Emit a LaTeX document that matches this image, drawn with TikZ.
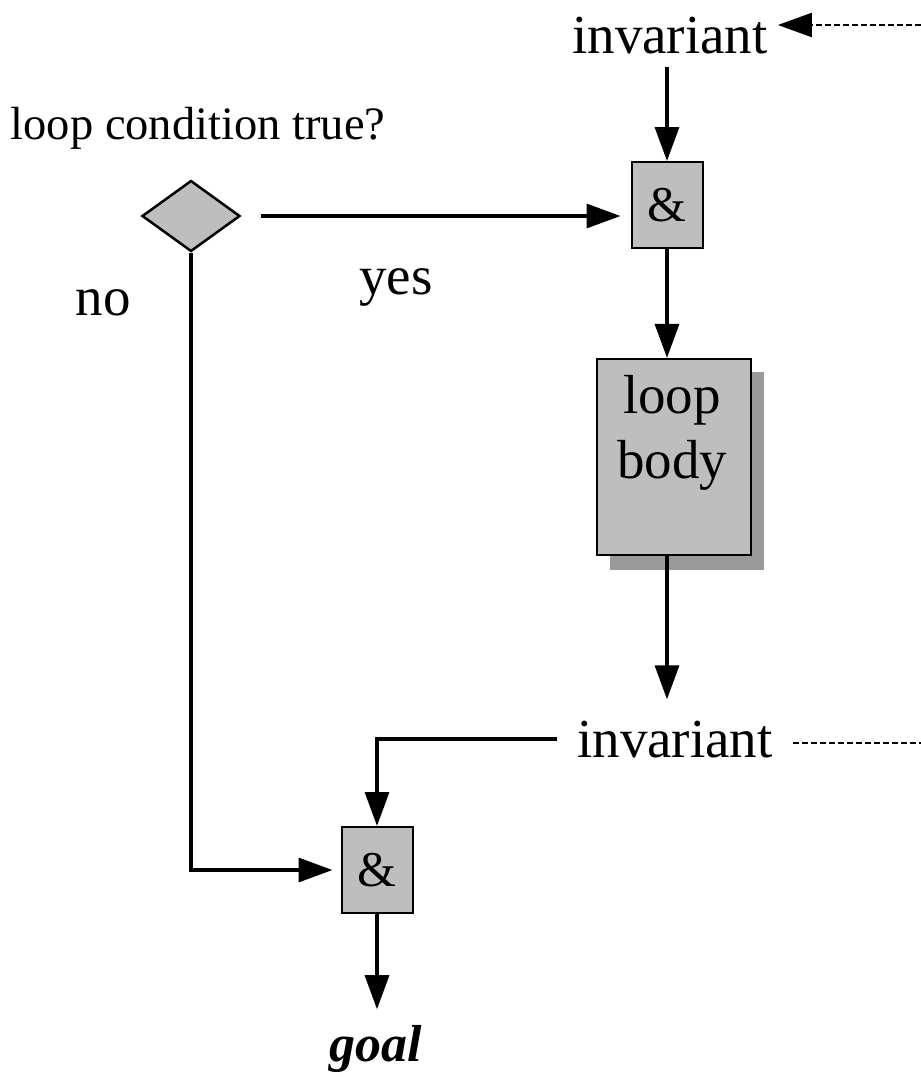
\documentclass[tikz,border=0pt]{standalone}
\usepackage{fontspec}
\setmainfont{Liberation Serif}
\usetikzlibrary{arrows.meta,shapes.geometric}
\definecolor{boxgray}{HTML}{BEBEBE}
\definecolor{shadowgray}{HTML}{9A9A9A}
\begin{document}
\begin{tikzpicture}[x=1pt,y=-1pt,
  lbl/.style={font=\fontsize{55}{60}\selectfont, inner sep=0pt},
  andbox/.style={draw, fill=boxgray, line width=2pt, minimum width=71pt, minimum height=86pt, inner sep=0pt, font=\fontsize{50}{55}\selectfont},
  bodybox/.style={draw, fill=boxgray, line width=2.2pt, minimum width=154pt, minimum height=196pt, inner sep=0pt},
  decision/.style={draw, fill=boxgray, shape=diamond, line width=2.5pt, minimum width=98pt, minimum height=71pt, inner sep=0pt},
  arr/.style={-{Triangle[length=34pt,width=24pt]}, line width=3.4pt},
  dashline/.style={dash pattern=on 6pt off 3pt, line width=2.4pt}]
\useasboundingbox (0,0) rectangle (921,1077);
% texts
\node[lbl] (inv1) at (670,36) {invariant};
\node[lbl, font=\fontsize{46.5}{50}\selectfont] (cond) at (198,128) {loop condition true?};
\node[lbl] (yes) at (396,287) {yes};
\node[lbl] (no) at (103,303) {no};
\node[lbl] (inv2) at (675,740) {invariant};
\node[lbl, font=\fontsize{52}{56}\selectfont\bfseries\itshape] (goal) at (376,1049) {goal};
% shapes
\node[decision] (dec) at (191,216) {};
\node[andbox] (and1) at (667,205) {\&};
\fill[shadowgray] (610,372) rectangle (764,570);
\node[bodybox] (body) at (674,457) {};
\node[lbl, align=center, font=\fontsize{55}{65}\selectfont] (bodytxt) at (672,433) {loop\\body};
\node[andbox] (and2) at (377,870) {\&};
% coordinates for loop-back
\coordinate (r1) at (930,743);
\coordinate (r0) at (930,25);
% connectors
\draw[arr, shorten <=12pt] (and1.north |- inv1.south) -- (and1.north);
\draw[arr, shorten <=20pt, shorten >=10pt] (dec.east) -- (dec.east -| and1.west);
\draw[arr] (and1.south) -- (and1.south |- body.north);
\draw[arr, shorten >=22pt] (and1.south |- body.south) -- (and1.south |- inv2.north);
\draw[arr, shorten <=20pt] (inv2.west |- 0,739) -| (and2.north);
\draw[arr, shorten >=8pt] (dec.south) |- (and2.west);
\draw[arr, shorten >=16pt] (and2.south) -- (and2.south |- goal.north);
\draw[dashline, -{Triangle[length=34pt,width=24pt]}, shorten <=20pt, shorten >=10pt] (inv2.east |- 0,743) -- (r1) -- (r0) -- (inv1.east |- 0,25);
\end{tikzpicture}
\end{document}
